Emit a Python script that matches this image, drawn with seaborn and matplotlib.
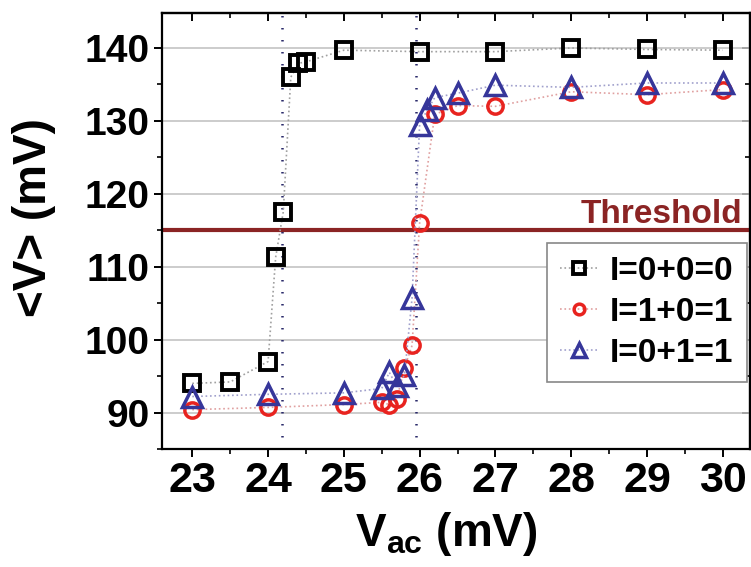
import numpy as np
import seaborn as sns
import matplotlib.pyplot as plt
from matplotlib.ticker import MultipleLocator

# values
x_000 = [23, 23.5, 24, 24.1, 24.2, 24.3, 24.4, 24.5, 25, 26, 27, 28, 29, 30]
v_000 = [94.0, 94.2, 97.0, 111.3, 117.5, 136.0, 137.9, 138.1, 139.7, 139.5, 139.5, 140.0, 139.8, 139.7]

x_101 = [23, 24, 25, 25.5, 25.6, 25.7, 25.8, 25.9, 26.0, 26.2, 26.5, 27, 28, 29, 30]
v_101 = [90.4, 90.7, 91.1, 91.4, 91.1, 91.9, 96.1, 99.2, 116.0, 130.9, 132.1, 132.0, 134.0, 133.6, 134.3]

x_011 = [23, 24, 25, 25.5, 25.6, 25.7, 25.8, 25.9, 26.0, 26.1, 26.2, 26.5, 27, 28, 29, 30]
v_011 = [92.2, 92.5, 92.7, 93.3, 95.5, 93.6, 95.1, 105.7, 129.5, 131.5, 133.2, 133.8, 134.9, 134.6, 135.2, 135.2]

labels = ['I=0+0=0', 'I=1+0=1', 'I=0+1=1']
threshold = 115
switch_x = [24.18, 25.95]
x_ticks = [23, 24, 25, 26, 27, 28, 29, 30]
y_ticks = [90, 100, 110, 120, 130, 140]

sns.set_theme(style='white')
plt.rcParams['font.family'] = ['Liberation Sans', 'DejaVu Sans']
plt.rcParams['font.weight'] = 'bold'
plt.rcParams['mathtext.fontset'] = 'custom'
plt.rcParams['mathtext.rm'] = 'Liberation Sans:bold'
plt.rcParams['mathtext.bf'] = 'Liberation Sans:bold'
for key in ['text.color', 'axes.labelcolor', 'xtick.color', 'ytick.color']:
    plt.rcParams[key] = 'black'

fig = plt.figure(figsize=(7.51, 5.67), dpi=100)
ax = fig.add_axes([162 / 751, 118 / 567, 588 / 751, 436 / 567])

for xv in switch_x:
    ax.axvline(xv, color='#2b2b6b', lw=1.8, linestyle=(0, (0.6, 4.2)), zorder=1)

ax.axhline(threshold, color='#8b2424', lw=3, zorder=2)

styles = [
    dict(marker='s', ms=12, mec='black', color='#a0a0a0', mew=2.8),
    dict(marker='o', ms=11, mec='#e8231f', color='#e0a0a0', mew=2.5),
    dict(marker='^', ms=14, mec='#36369a', color='#a0a0cc', mew=2.5),
]
series = [(x_000, v_000), (x_101, v_101), (x_011, v_011)]
for (xs, vs), lab, st in zip(series, labels, styles):
    sns.lineplot(x=xs, y=vs, ax=ax, label=lab, mfc='none', linestyle=':',
                 lw=1.2, sort=False, estimator=None, zorder=3, **st)

ax.text(30.26, 116.0, 'Threshold', color='#8b2424', fontsize=24,
        fontweight='bold', ha='right', va='baseline', zorder=4)

ax.set_xlim(22.6, 30.36)
ax.set_ylim(85, 144.8)
ax.set_xticks(x_ticks)
ax.set_yticks(y_ticks)
ax.xaxis.set_minor_locator(MultipleLocator(0.5))
ax.yaxis.set_minor_locator(MultipleLocator(5))
ax.yaxis.grid(True, which='major', color='#c4c4c4', lw=1.2)
ax.xaxis.grid(False)
ax.set_axisbelow(True)

for sp in ax.spines.values():
    sp.set_color('black')
    sp.set_linewidth(1.6)

ax.tick_params(axis='both', which='major', direction='out', length=6, width=1.4,
               color='black', left=True, bottom=True)
ax.tick_params(axis='both', which='minor', direction='out', length=3.5, width=1.2,
               color='black', left=True, bottom=True)
ax.tick_params(axis='x', labelsize=31, pad=3, labelcolor='black')
ax.tick_params(axis='y', labelsize=28, pad=3, labelcolor='black')
for t in ax.get_xticklabels() + ax.get_yticklabels():
    t.set_fontweight('bold')

top = ax.secondary_xaxis('top')
top.set_xticks(x_ticks)
top.xaxis.set_minor_locator(MultipleLocator(0.5))
top.tick_params(which='major', direction='in', length=6, width=1.4, labeltop=False)
top.tick_params(which='minor', direction='in', length=3.5, width=1.2)
top.spines['top'].set_linewidth(1.6)
right = ax.secondary_yaxis('right')
right.set_yticks(y_ticks)
right.yaxis.set_minor_locator(MultipleLocator(5))
right.tick_params(which='major', direction='in', length=6, width=1.4, labelright=False)
right.tick_params(which='minor', direction='in', length=3.5, width=1.2)
right.spines['right'].set_linewidth(1.6)

ax.set_xlabel(r'$\mathbf{V_{ac}}$ (mV)', fontsize=33, fontweight='bold', color='black')
ax.xaxis.set_label_coords(0.483, -0.14)
ax.set_ylabel('<V> (mV)', fontsize=33, fontweight='bold', color='black')
ax.yaxis.label.set_va('center')
ax.yaxis.set_label_coords(-0.218, 0.53)

leg = ax.legend(loc='upper right', bbox_to_anchor=(0.995, 0.473), borderaxespad=0,
                fontsize=24, markerscale=0.7, handlelength=1.15, handletextpad=0.35,
                labelspacing=0.3, borderpad=0.4, fancybox=False, framealpha=1,
                edgecolor='#888888')
leg.get_frame().set_linewidth(1.2)
for t in leg.get_texts():
    t.set_fontweight('bold')
    t.set_color('black')

fig.savefig('out.png', dpi=100)
